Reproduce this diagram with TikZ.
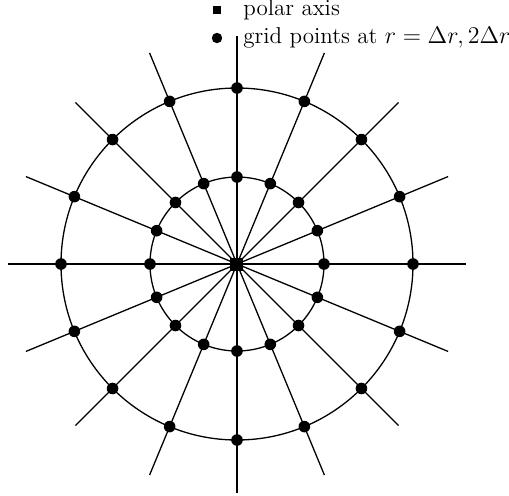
\documentclass[tikz,border=0pt]{standalone}
\usepackage{amsmath}
\usetikzlibrary{positioning}
\tikzset{
  gridpt/.style={circle,fill=black,inner sep=0pt,minimum size=5.8pt},
  axispt/.style={rectangle,fill=black,inner sep=0pt,minimum size=6.5pt},
  spoke/.style={line width=0.65pt},
  ring/.style={line width=0.65pt},
  keytext/.style={anchor=west,inner sep=0pt,font=\fontsize{11.5}{13.8}\selectfont},
}
\begin{document}
\begin{tikzpicture}[x=0.5pt,y=0.5pt]
\useasboundingbox (-237,-231) rectangle (272,264);
\coordinate (o) at (0,0);
\draw[ring] (o) circle (87);
\draw[ring] (o) circle (176);
\foreach \a [count=\i] in {0,22.5,...,337.5} {
  \coordinate (tip\i) at (\a:228.5);
  \draw[spoke] (o) -- (tip\i);
}
\foreach \a [count=\i] in {0,22.5,...,337.5} {
  \node[gridpt] (in\i) at (\a:87) {};
  \node[gridpt] (out\i) at (\a:176) {};
}
\node[axispt] (axis) at (o) {};
% legend
\node[axispt,minimum size=4pt] (keysq) at (-20,254) {};
\node[keytext] (keysqtxt) at (6,254) {polar axis};
\node[gridpt,minimum size=5.2pt] (keydot) at (-20,226) {};
\node[keytext] (keydottxt) at (6,226) {grid points at $r=\Delta r, 2\Delta r$};
\end{tikzpicture}
\end{document}
